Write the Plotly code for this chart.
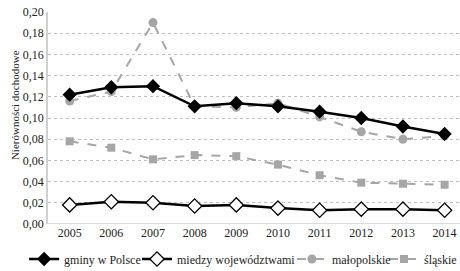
import plotly.graph_objects as go

years = [2005, 2006, 2007, 2008, 2009, 2010, 2011, 2012, 2013, 2014]
gminy = [0.122, 0.129, 0.130, 0.111, 0.114, 0.111, 0.106, 0.100, 0.092, 0.085]
miedzy = [0.018, 0.021, 0.020, 0.017, 0.018, 0.015, 0.013, 0.014, 0.014, 0.013]
malopolskie = [0.116, 0.125, 0.190, 0.111, 0.110, 0.114, 0.101, 0.087, 0.080, 0.083]
slaskie = [0.078, 0.072, 0.061, 0.065, 0.064, 0.056, 0.046, 0.039, 0.038, 0.037]
yticks = [0.00, 0.02, 0.04, 0.06, 0.08, 0.10, 0.12, 0.14, 0.16, 0.18, 0.20]
ytick_labels = ["0,00", "0,02", "0,04", "0,06", "0,08", "0,10", "0,12", "0,14", "0,16", "0,18", "0,20"]

font = "Liberation Serif, Times New Roman, Times, serif"
grey = "#a6a6a6"

fig = go.Figure()
fig.add_trace(go.Scatter(x=years, y=slaskie, name="śląskie", mode="lines+markers",
                         legend="legend4",
                         line=dict(color=grey, width=2, dash="dash"),
                         marker=dict(symbol="square", size=8, color=grey)))
fig.add_trace(go.Scatter(x=years, y=malopolskie, name="małopolskie", mode="lines+markers",
                         legend="legend3",
                         line=dict(color=grey, width=2, dash="dash"),
                         marker=dict(symbol="circle", size=9, color=grey)))
fig.add_trace(go.Scatter(x=years, y=miedzy, name="miedzy województwami", mode="lines+markers",
                         legend="legend2",
                         line=dict(color="black", width=2.5),
                         marker=dict(symbol="diamond", size=11, color="white",
                                     line=dict(color="black", width=1.3))))
fig.add_trace(go.Scatter(x=years, y=gminy, name="gminy w Polsce", mode="lines+markers",
                         legend="legend",
                         line=dict(color="black", width=2.5),
                         marker=dict(symbol="diamond", size=11, color="black")))


def leg(x):
    return dict(orientation="h", x=x, xanchor="left", y=-0.165, yanchor="middle",
                font=dict(size=12), itemwidth=30, bgcolor="rgba(0,0,0,0)")


fig.update_layout(
    width=460, height=271,
    margin=dict(l=48, r=0, t=12, b=47, autoexpand=False),
    plot_bgcolor="white", paper_bgcolor="white",
    font=dict(family=font, size=12, color="#222"),
    showlegend=True,
    legend=leg(-0.058), legend2=leg(0.216), legend3=leg(0.592), legend4=leg(0.8155),
    xaxis=dict(range=[2004.48, 2014.37], tickvals=years, ticktext=[str(y) for y in years],
               showgrid=False, zeroline=False, showline=False, ticks="", ticklen=0,
               tickfont=dict(size=12), automargin=False),
    yaxis=dict(range=[0, 0.2], tickvals=yticks, ticktext=ytick_labels,
               showgrid=True, gridcolor="#bfbfbf", griddash="dot", gridwidth=1,
               zeroline=False, showline=True, linecolor="#d0d0d0", linewidth=1.5,
               ticks="", tickfont=dict(size=12), automargin=False),
)
fig.add_annotation(text="Nierówności dochodowe", xref="paper", yref="paper",
                   x=-0.08, y=0.561, textangle=-90, showarrow=False,
                   font=dict(size=11), xanchor="center", yanchor="middle")
fig.add_shape(type="line", xref="paper", yref="y", x0=0, x1=1, y0=0, y1=0,
              line=dict(color="#d0d0d0", width=1.5), layer="below")

fig.write_html("out.html", config={"displayModeBar": False},
               post_script="document.body.style.margin='0';document.body.style.overflow='hidden';")
